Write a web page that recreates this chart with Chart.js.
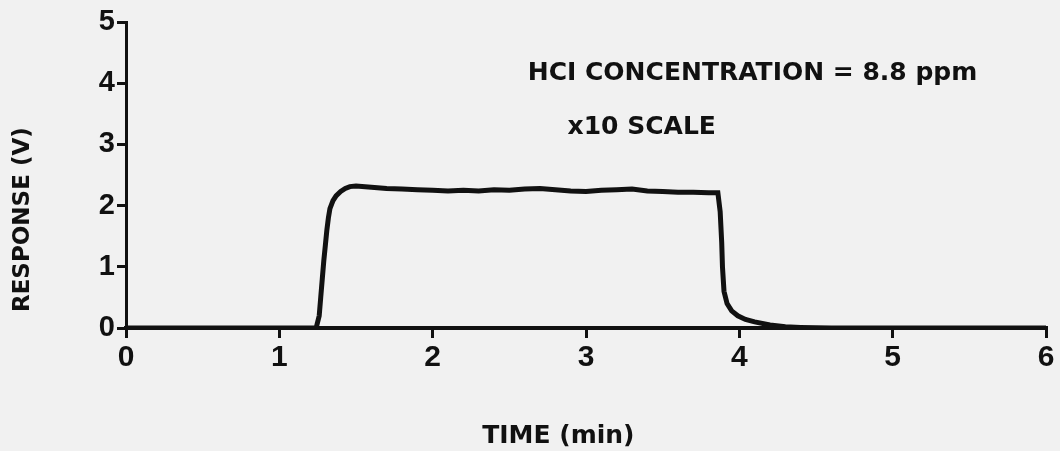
<!DOCTYPE html>
<html>
<head>
<meta charset="utf-8">
<script src="https://cdn.jsdelivr.net/npm/chart.js@4/dist/chart.umd.min.js"></script>
<style>
  html, body { margin: 0; padding: 0; background: #f1f1f1; }
  #wrap { width: 1060px; height: 451px; }
</style>
</head>
<body>
<div id="wrap"><canvas id="myChart" width="1060" height="451"></canvas></div>
<script>
var zeit = [0, 0.5, 1.0, 1.2, 1.24, 1.26, 1.27, 1.28, 1.29, 1.30, 1.31, 1.32, 1.33, 1.35, 1.37, 1.40, 1.43, 1.46, 1.50,
    1.6, 1.7, 1.8, 1.9, 2.0, 2.1, 2.2, 2.3, 2.4, 2.5, 2.6, 2.7, 2.8, 2.9, 3.0, 3.1, 3.2, 3.3, 3.4, 3.5, 3.6, 3.7, 3.8, 3.86,
    3.875, 3.885, 3.89, 3.90, 3.92, 3.95, 3.99, 4.04, 4.1, 4.2, 4.3, 4.4, 4.6, 5.0, 5.5, 6.0];
var antwort = [0, 0, 0, 0, 0, 0.2, 0.5, 0.8, 1.1, 1.35, 1.6, 1.8, 1.95, 2.08, 2.16, 2.23, 2.28, 2.31, 2.32,
    2.30, 2.28, 2.27, 2.26, 2.25, 2.24, 2.25, 2.24, 2.26, 2.25, 2.27, 2.28, 2.26, 2.24, 2.23, 2.25, 2.26, 2.27, 2.24, 2.23, 2.22, 2.22, 2.21, 2.21,
    1.9, 1.4, 1.0, 0.6, 0.4, 0.28, 0.2, 0.14, 0.1, 0.05, 0.02, 0.01, 0, 0, 0, 0];
var xTicks = [0, 1, 2, 3, 4, 5, 6];
var yTicks = [0, 1, 2, 3, 4, 5];
var textKonz = "HCI CONCENTRATION = 8.8 ppm";
var textSkala = "x10 SCALE";
var xTitel = "TIME (min)";
var yTitel = "RESPONSE (V)";

var schwarz = "#111111";
var schrift = "'Liberation Sans', Arial, sans-serif";
var schriftText = "'DejaVu Sans', sans-serif";

var punkte = [];
for (var i = 0; i < zeit.length; i++) {
    punkte.push({ x: zeit[i], y: antwort[i] });
}

// Beschriftung im Diagramm
var textPlugin = {
    id: "beschriftung",
    afterDraw: function (chart) {
        var ctx = chart.ctx;
        var sx = chart.scales.x;
        var sy = chart.scales.y;
        ctx.save();
        ctx.fillStyle = schwarz;
        ctx.textBaseline = "middle";
        ctx.textAlign = "left";
        ctx.font = "bold 25px " + schriftText;
        ctx.fillText(textKonz, sx.getPixelForValue(2.62), sy.getPixelForValue(4.16));
        ctx.fillText(textSkala, sx.getPixelForValue(2.88), sy.getPixelForValue(3.28));
        // Achsentitel (wie im Original nicht ganz mittig)
        ctx.textAlign = "center";
        ctx.fillText(xTitel, sx.getPixelForValue(2.82), 436);
        ctx.font = "bold 23px " + schriftText;
        ctx.translate(23, sy.getPixelForValue(1.77));
        ctx.rotate(-Math.PI / 2);
        ctx.fillText(yTitel, 0, 0);
        ctx.restore();
    }
};

new Chart("myChart", {
    type: "line",
    data: {
        datasets: [{
            data: punkte,
            borderColor: schwarz,
            borderWidth: 5,
            pointRadius: 0,
            tension: 0,
            fill: false
        }]
    },
    options: {
        responsive: false,
        animation: false,
        layout: { padding: { left: 0, right: 14, top: 22, bottom: 0 } },
        plugins: { legend: { display: false }, tooltip: { enabled: false } },
        scales: {
            x: {
                type: "linear",
                min: 0,
                max: 6,
                afterBuildTicks: function (scale) {
                    scale.ticks = xTicks.map(function (v) { return { value: v }; });
                },
                afterFit: function (scale) { scale.height = 123; },
                border: { color: schwarz, width: 4 },
                grid: { drawOnChartArea: false, color: schwarz, lineWidth: 3, tickLength: 10 },
                ticks: {
                    color: schwarz,
                    padding: 2,
                    maxRotation: 0,
                    font: { family: schrift, size: 30, weight: "bold" }
                }
            },
            y: {
                type: "linear",
                min: 0,
                max: 5,
                afterBuildTicks: function (scale) {
                    scale.ticks = yTicks.map(function (v) { return { value: v }; });
                },
                afterFit: function (scale) { scale.width = 126; },
                border: { color: schwarz, width: 3 },
                grid: { drawOnChartArea: false, color: schwarz, lineWidth: 3, tickLength: 9 },
                ticks: {
                    color: schwarz,
                    padding: 2,
                    font: { family: schrift, size: 29, weight: "bold" }
                }
            }
        }
    },
    plugins: [textPlugin]
});
</script>
</body>
</html>
